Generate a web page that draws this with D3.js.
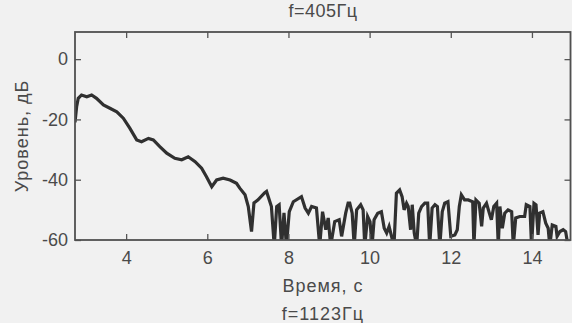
<!DOCTYPE html>
<html>
<head>
<meta charset="utf-8">
<script src="https://cdn.jsdelivr.net/npm/d3@7"></script>
<style>
  body { margin: 0; background: #f1f1f1; }
  svg { display: block; }
  text { font-family: "Liberation Sans", Arial, sans-serif; fill: #4a4a4a; }
</style>
</head>
<body>
<div id="chart"></div>
<script>
// time, s
const times = [
  2.74, 2.78, 2.82, 2.90, 3.03, 3.15, 3.27, 3.44, 3.60, 3.77, 3.93, 4.09, 4.26, 4.38, 4.55, 4.67,
  4.83, 5.00, 5.20, 5.37, 5.53, 5.70, 5.86, 5.98, 6.11, 6.23, 6.39, 6.56, 6.72,
  6.80, 6.93, 7.01, 7.09, 7.15, 7.25, 7.41, 7.46, 7.58, 7.65, 7.71, 7.77, 7.83, 7.89, 7.95,
  8.02, 8.12, 8.32, 8.41, 8.49, 8.57, 8.69, 8.77, 8.84, 8.92, 8.98, 9.04, 9.14, 9.25, 9.31,
  9.41, 9.47, 9.51, 9.57, 9.62, 9.68, 9.78, 9.84, 9.88, 9.95, 10.01, 10.06, 10.11, 10.20,
  10.29, 10.36, 10.42, 10.48, 10.54, 10.60, 10.66, 10.74, 10.80, 10.85, 10.91, 10.95, 11.01,
  11.05, 11.10, 11.16, 11.21, 11.28, 11.36, 11.43, 11.48, 11.54, 11.61, 11.67, 11.73, 11.79,
  11.85, 11.93, 12.00, 12.10, 12.16, 12.21, 12.26, 12.34, 12.43, 12.54, 12.57, 12.62, 12.70,
  12.76, 12.80, 12.88, 12.95, 13.00, 13.06, 13.13, 13.17, 13.21, 13.27, 13.33, 13.41, 13.50,
  13.54, 13.60, 13.70, 13.82, 13.86, 13.95, 13.99, 14.05, 14.10, 14.15, 14.19, 14.27, 14.34,
  14.40, 14.44, 14.50, 14.59, 14.62, 14.69, 14.77, 14.83, 14.89
];
// level, dB
const levels = [
  -21, -15.8, -13.0, -11.9, -12.5, -11.9, -13.0, -15.2, -16.3, -17.5, -19.6, -22.9, -26.8, -27.4, -26.3, -26.8,
  -29.0, -31.2, -32.9, -33.4, -32.4, -34.0, -36.2, -39.0, -42.3, -40.1, -39.5, -40.1, -41.2,
  -42.8, -45.0, -48.9, -57.2, -47.7, -46.7, -44.4, -43.9, -48.9, -62, -48.9, -48.3, -62, -51.0, -62,
  -50.6, -47.3, -45.6, -49.4, -51.1, -48.9, -49.4, -62, -50.6, -56.6, -52.7, -62, -53.9, -53.3, -58.8,
  -51.1, -47.8, -47.8, -51.1, -62, -50.0, -48.3, -50.0, -62, -52.2, -53.9, -62, -53.3, -51.1,
  -50.6, -56.1, -57.7, -55.5, -58.8, -62, -44.5, -43.4, -45.6, -50.0, -47.8, -48.9, -56.6,
  -48.3, -57.7, -62, -51.1, -48.9, -47.8, -47.8, -62, -49.4, -48.3, -48.9, -62, -50.6,
  -47.8, -47.3, -58.8, -58.3, -56.6, -48.9, -45.0, -46.7, -46.7, -47.3, -62, -46.7, -47.8,
  -55.5, -49.4, -47.8, -51.1, -53.3, -48.9, -47.8, -62, -48.9, -56.1, -51.1, -50.0, -50.6,
  -62, -52.7, -52.2, -52.2, -48.3, -48.9, -62, -47.8, -48.3, -58.3, -51.1, -50.6, -54.4,
  -56.1, -62, -55.0, -55.5, -58.8, -57.2, -56.6, -57.2, -62
];
const xTicks = [4, 6, 8, 10, 12, 14];
const yTicks = [0, -20, -40, -60];

const width = 572, height = 323;
const margin = { top: 32, right: 1.5, bottom: 83, left: 75 };
const w = width - margin.left - margin.right;
const h = height - margin.top - margin.bottom;

const svg = d3.select('#chart')
  .append('svg')
  .attr('width', width)
  .attr('height', height);

const g = svg.append('g')
  .attr('transform', `translate(${margin.left},${margin.top})`);

const x = d3.scaleLinear().domain([2.74, 14.95]).range([0, w]);
const y = d3.scaleLinear().domain([-60, 9]).range([h, 0]);

g.append('clipPath').attr('id', 'clip')
  .append('rect').attr('width', w).attr('height', h);

const data = times.map((t, i) => ({ t, v: levels[i] }));

const line = d3.line()
  .x(d => x(d.t))
  .y(d => y(d.v));

g.append('path')
  .datum(data)
  .attr('clip-path', 'url(#clip)')
  .attr('fill', 'none')
  .attr('stroke', '#303030')
  .attr('stroke-width', 3.2)
  .attr('stroke-linejoin', 'miter')
  .attr('d', line);

// axes, ticks pointing inward on all four sides
const tickLen = 6;
const fmt = d => String(d); // plain hyphen minus, as in the original
const styleAxis = sel => {
  sel.select('.domain').remove();
  sel.selectAll('.tick line').attr('stroke', '#555').attr('stroke-width', 1.3);
  sel.selectAll('.tick text').style('font-size', '18px').attr('fill', '#4a4a4a');
};

g.append('g')
  .attr('transform', `translate(0,${h})`)
  .call(d3.axisBottom(x).tickValues(xTicks).tickFormat(fmt).tickSizeInner(-tickLen).tickPadding(11))
  .call(styleAxis);

g.append('g')
  .call(d3.axisTop(x).tickValues(xTicks).tickSizeInner(-tickLen).tickFormat(''))
  .call(styleAxis);

g.append('g')
  .call(d3.axisLeft(y).tickValues(yTicks).tickFormat(fmt).tickSizeInner(-tickLen).tickPadding(7))
  .call(styleAxis);

g.append('g')
  .attr('transform', `translate(${w},0)`)
  .call(d3.axisRight(y).tickValues(yTicks).tickSizeInner(-tickLen).tickFormat(''))
  .call(styleAxis);

g.append('rect')
  .attr('width', w).attr('height', h)
  .attr('fill', 'none')
  .attr('stroke', '#505050')
  .attr('stroke-width', 1.8);

// texts
svg.append('text')
  .attr('x', 323).attr('y', 17)
  .attr('text-anchor', 'middle')
  .style('font-size', '18px')
  .style('letter-spacing', '0.5px')
  .text('f=405Гц');

svg.append('text')
  .attr('x', 323).attr('y', 292)
  .attr('text-anchor', 'middle')
  .style('font-size', '18px')
  .style('letter-spacing', '1px')
  .text('Время, с');

svg.append('text')
  .attr('x', 323).attr('y', 320)
  .attr('text-anchor', 'middle')
  .style('font-size', '18px')
  .style('letter-spacing', '1px')
  .text('f=1123Гц');

svg.append('text')
  .attr('transform', 'translate(28,136) rotate(-90)')
  .attr('text-anchor', 'middle')
  .style('font-size', '18px')
  .style('letter-spacing', '1px')
  .text('Уровень, дБ');
</script>
</body>
</html>
